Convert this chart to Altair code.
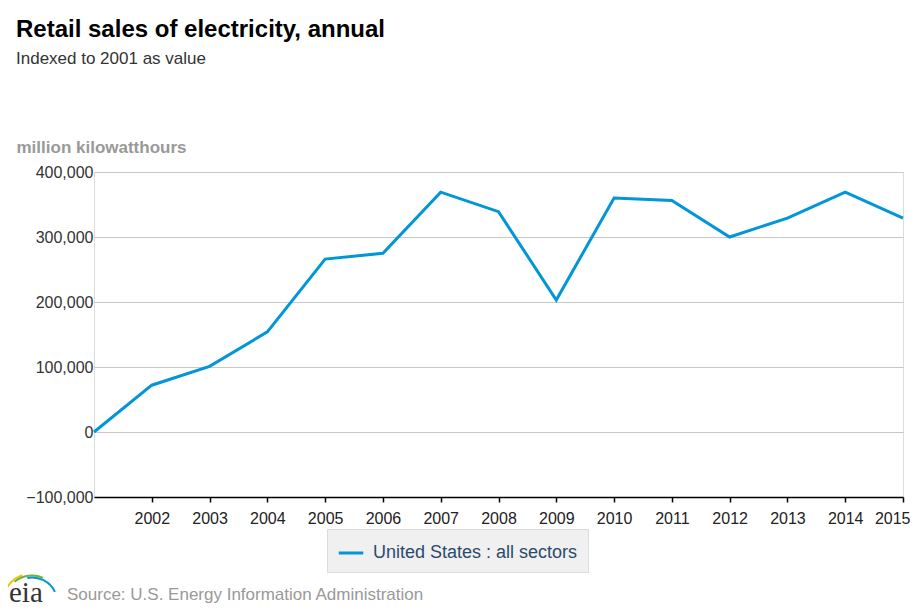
import altair as alt
import pandas as pd

years = [2001, 2002, 2003, 2004, 2005, 2006, 2007, 2008, 2009, 2010, 2011, 2012, 2013, 2014, 2015]
values = [0, 72000, 101000, 154000, 266000, 275000, 369000, 339000, 203000, 360000, 356000, 300000, 329000, 369000, 329000]
series_name = "United States : all sectors"
x_ticks = [2002, 2003, 2004, 2005, 2006, 2007, 2008, 2009, 2010, 2011, 2012, 2013, 2014, 2015]
y_ticks = [-100000, 0, 100000, 200000, 300000, 400000]

title_text = "Retail sales of electricity, annual"
subtitle_text = "Indexed to 2001 as value"
y_title = "million kilowatthours"
source_text = "Source: U.S. Energy Information Administration"

FONT = "Liberation Sans"

df = pd.DataFrame({"year": years, "value": values, "series": [series_name] * len(years)})

line = alt.Chart(df).mark_line(strokeWidth=3).encode(
    x=alt.X("year:Q",
            scale=alt.Scale(domain=[2001, 2015], nice=False, zero=False),
            axis=alt.Axis(values=x_ticks, format="d", title=None, grid=False,
                          domainColor="#000", domainWidth=1.5, tickColor="#000",
                          tickSize=5, tickWidth=1.5, labelFontSize=16, labelColor="#222",
                          labelFont=FONT, labelPadding=8, labelFlush=True,
                          labelFlushOffset=7)),
    y=alt.Y("value:Q",
            scale=alt.Scale(domain=[-100000, 400000], nice=False),
            axis=alt.Axis(values=y_ticks, format=",.0f", title=y_title, domain=False, ticks=False,
                          gridColor="#c8c8c8", gridWidth=1.2, labelFontSize=16, labelColor="#333",
                          labelFont=FONT, labelPadding=1,
                          titleAngle=0, titleAlign="left", titleBaseline="alphabetic",
                          titleX=-78, titleY=-20, titleFontSize=17, titleFontWeight="bold",
                          titleColor="#999", titleFont=FONT)),
    color=alt.Color("series:N",
                    scale=alt.Scale(domain=[series_name], range=["#0096d7"]),
                    legend=alt.Legend(title=None, orient="none", legendX=233, legendY=357,
                                      fillColor="#f0f0f0", strokeColor="#dcdcdc", padding=10,
                                      symbolType="stroke", symbolStrokeWidth=3, symbolSize=600,
                                      labelFontSize=18, labelColor="#2b4a6b", labelFont=FONT,
                                      labelOffset=8, labelLimit=400)),
)

def text_layer(txt, x, y, size, color, weight="normal", font=FONT):
    return alt.Chart(pd.DataFrame({"t": [txt]})).mark_text(
        align="left", baseline="alphabetic", fontSize=size, color=color,
        fontWeight=weight, font=font
    ).encode(text="t:N", x=alt.value(x), y=alt.value(y))

title = text_layer(title_text, -78, -135, 24, "#000", "bold")
subtitle = text_layer(subtitle_text, -78, -108, 17, "#333")
source = text_layer(source_text, -27, 428, 17, "#999")
eia = text_layer("eia", -85, 430, 29, "#333", "normal", "Liberation Serif")

logo_df = pd.DataFrame({"k": [0]})
def arc(color, r1, r2, t1, t2):
    return alt.Chart(logo_df).mark_arc(
        color=color, radius=r2, radius2=r1, theta=t1, theta2=t2
    ).encode(x=alt.value(-62), y=alt.value(431))

arcs = [
    arc("#f2c300", 28.5, 30.5, 5.3, 5.95),
    arc("#6cb33f", 26.5, 28.5, 5.6, 6.7),
    arc("#0096d7", 24.5, 26.5, 6.1, 7.4),
]

chart = alt.layer(line, title, subtitle, source, eia, *arcs).properties(
    width=809, height=325,
    autosize=alt.AutoSizeParams(type="none"),
    padding={"left": 86, "top": 164, "right": 9, "bottom": 108},
).configure_view(stroke=None).configure(background="white")

chart.save("out.html", embed_options={"renderer": "svg", "actions": False})
